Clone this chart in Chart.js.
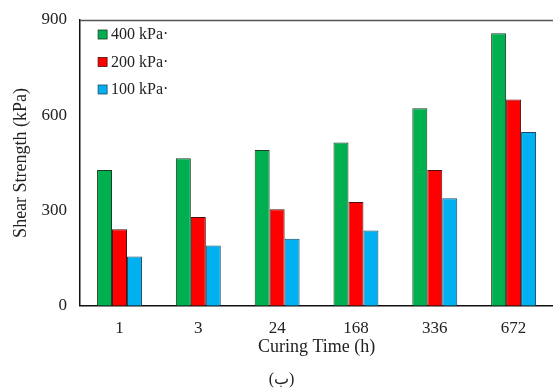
<!DOCTYPE html>
<html>
<head>
<meta charset="utf-8">
<script src="https://cdn.jsdelivr.net/npm/chart.js@4"></script>
<style>
  html, body { margin: 0; padding: 0; background: #fff; }
  #wrap { width: 553px; height: 389px; }
</style>
</head>
<body>
<div id="wrap"><canvas id="shear-chart"></canvas></div>
<script>
// Datos del gráfico de resistencia al corte
const curingTimes = ['1', '3', '24', '168', '336', '672'];
const seriesNames = ['400 kPa·', '200 kPa·', '100 kPa·'];
const shear400 = [428, 465, 491, 514, 622, 858];
const shear200 = [241, 280, 304, 327, 428, 650];
const shear100 = [155, 190, 211, 237, 339, 547];
const yTicks = [0, 300, 600, 900];

const colors = ['#00B050', '#FF0000', '#00B0F0'];
const borders = ['#1d3d22', '#4a1010', '#1d4a66'];

const serif = "'Liberation Serif', 'Times New Roman', serif";

// Leyenda dibujada dentro del área del gráfico
const insideLegend = {
  id: 'insideLegend',
  afterDraw(chart) {
    const ctx = chart.ctx;
    const area = chart.chartArea;
    ctx.save();
    // línea superior del marco
    ctx.strokeStyle = '#555';
    ctx.lineWidth = 1.5;
    ctx.beginPath();
    ctx.moveTo(area.left, area.top + 0.5);
    ctx.lineTo(area.right, area.top + 0.5);
    ctx.stroke();

    ctx.font = '16px ' + serif;
    ctx.textBaseline = 'middle';
    chart.data.datasets.forEach((ds, i) => {
      const y = area.top + 15 + i * 27.5;
      const x = area.left + 18;
      ctx.fillStyle = ds.backgroundColor;
      ctx.fillRect(x, y - 5, 9, 9);
      ctx.strokeStyle = ds.borderColor;
      ctx.lineWidth = 0.8;
      ctx.strokeRect(x, y - 5, 9, 9);
      ctx.fillStyle = '#222';
      ctx.fillText(ds.label, x + 13, y);
    });
    ctx.restore();
  }
};

const ctx = document.getElementById('shear-chart');

new Chart(ctx, {
  type: 'bar',
  data: {
    labels: curingTimes,
    datasets: [
      { label: seriesNames[0], data: shear400, backgroundColor: colors[0], borderColor: borders[0], borderWidth: 1 },
      { label: seriesNames[1], data: shear200, backgroundColor: colors[1], borderColor: borders[1], borderWidth: 1 },
      { label: seriesNames[2], data: shear100, backgroundColor: colors[2], borderColor: borders[2], borderWidth: 1 }
    ]
  },
  options: {
    responsive: true,
    maintainAspectRatio: false,
    animation: false,
    layout: { padding: { top: 20, right: 0, left: 10, bottom: 0 } },
    datasets: {
      bar: { categoryPercentage: 0.57, barPercentage: 1.0 }
    },
    plugins: {
      legend: { display: false },
      tooltip: { enabled: false },
      title: {
        display: true,
        position: 'bottom',
        text: '(ب)',
        color: '#222',
        font: { family: serif, size: 16, weight: 'normal' },
        padding: { top: 12, bottom: 0 }
      }
    },
    scales: {
      x: {
        grid: { display: false, drawTicks: false },
        border: { display: true, color: '#111', width: 1.5 },
        ticks: { color: '#222', font: { family: serif, size: 17 }, padding: 13 },
        title: {
          display: true,
          text: 'Curing Time (h)',
          color: '#222',
          font: { family: serif, size: 18 },
          padding: { top: -16, bottom: 0 }
        }
      },
      y: {
        min: 0,
        max: 900,
        afterBuildTicks(axis) {
          axis.ticks = yTicks.map(v => ({ value: v }));
        },
        afterFit(axis) {
          axis.paddingTop = 0;
          axis.paddingBottom = 0;
        },
        grid: { display: false, drawTicks: false },
        border: { display: true, color: '#111', width: 1.5 },
        ticks: { color: '#222', font: { family: serif, size: 17 }, padding: 13 },
        title: {
          display: true,
          text: 'Shear Strength (kPa)',
          color: '#222',
          font: { family: serif, size: 18 },
          padding: { top: 0, bottom: -3 }
        }
      }
    }
  },
  plugins: [insideLegend]
});
</script>
</body>
</html>
